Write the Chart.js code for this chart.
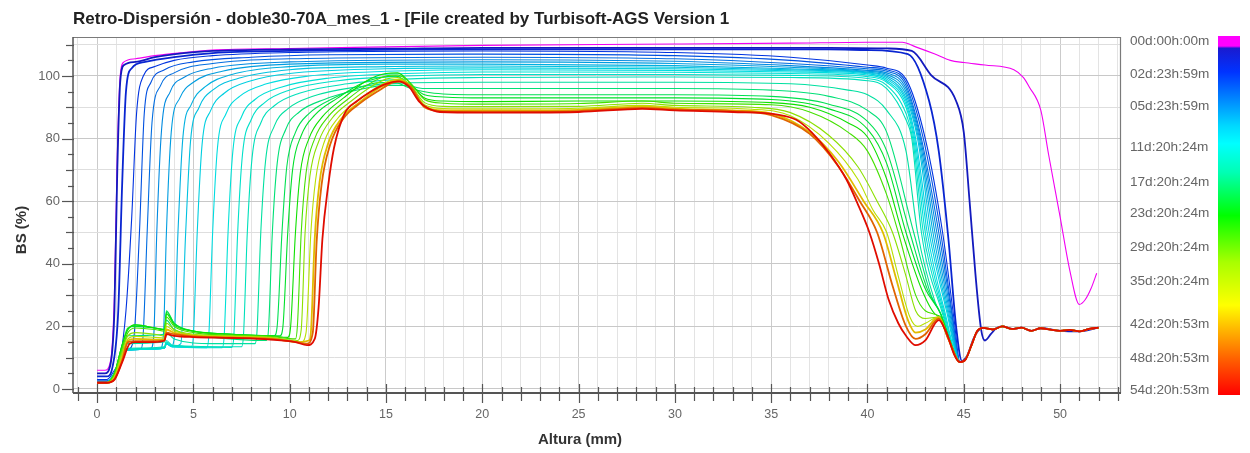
<!DOCTYPE html>
<html><head><meta charset="utf-8">
<script src="https://cdn.jsdelivr.net/npm/chart.js@4.4.1/dist/chart.umd.min.js"></script>
<style>html,body{margin:0;padding:0;background:#fff;}canvas{display:block;}</style>
</head><body>
<canvas id="c" width="1250" height="453"></canvas>
<script>
// ---------------- DATA ----------------
const chartTitle = "Retro-Dispersión - doble30-70A_mes_1 - [File created by Turbisoft-AGS Version 1";
const xAxisTitle = "Altura (mm)";
const yAxisTitle = "BS (%)";
const xTickLabels = [0, 5, 10, 15, 20, 25, 30, 35, 40, 45, 50];
const yTickLabels = [0, 20, 40, 60, 80, 100];
const colorbarLabels = ["00d:00h:00m","02d:23h:59m","05d:23h:59m","11d:20h:24m","17d:20h:24m","23d:20h:24m","29d:20h:24m","35d:20h:24m","42d:20h:53m","48d:20h:53m","54d:20h:53m"];
// scan times (days) of the drawn profiles
const scanTimes = [0,1,2,3,4,5,6,7,8,9,10,11,12,13,14,16,18,20,22,25,28,32,36,42,48,54.87];
// common top-of-tube tail (mm, BS %)
const tailBS = [[46,19.5],[46.5,19],[47,20],[47.5,19.2],[48,19.6],[48.5,18.6],[49,19.4],[49.5,19],[50,18.6],[50.5,18.9],[51,18.4],[51.5,19.2],[52,19.6]];
const dipBS = [[44.8,8.6],[45.1,9.5],[45.4,14],[45.7,18.5]];

const bs_t00 = [[0,6],[0.4,6],[0.7,9],[0.9,30],[1.05,75],[1.2,100],[1.4,104.5],[2,105.5],[3,106.5],[4.5,107.5],[6,108.3],[10,108.8],[15,109.3],[20,109.8],[30,110.2],[36,110.5],[40,110.8],[41.8,110.8],[42.5,109.3],[43.5,107],[44.3,105],[45,104.3],[46.1,103.5],[47.6,102],[48.1,99.5],[48.4,96.5],[49,89],[49.4,75],[50,55],[50.5,38],[51,27],[51.3,28.5],[51.6,32],[51.9,37]];
const bs_t01 = [[0,5],[0.4,5],[0.7,8],[0.9,25],[1.05,70],[1.2,98],[1.4,103.5],[2,104.5],[3,106],[4.5,107.3],[6,108],[10,108.5],[15,108.7],[20,109],[30,109],[38,109],[41,108.8],[42.3,108],[43.3,100.3],[44.6,92],[45,82],[45.3,60],[45.6,37],[45.9,19],[46.1,15.5],[46.4,17.5],[46.7,19.5],[47,20],[47.5,19.2],[48,19.6],[48.5,18.6],[49,19.4],[50,18.6],[51,18.4],[52,19.6]];
const bs_t02 = [[0,4],[0.5,4],[0.8,7],[1.1,25],[1.3,65],[1.5,95],[1.8,102.5],[2.5,104.5],[4,106],[6,107.3],[10,108],[20,108.5],[30,108.5],[38,108.5],[40,108.3],[42.1,107],[43.2,92],[43.7,76],[44.2,48],[44.6,20],[44.9,9],[45.2,11],[45.5,16],[45.8,19]];
const bs_t03 = [[0,3],[0.5,3],[0.9,6],[1.2,10],[1.5,25],[1.8,55],[2.05,88],[2.4,100],[3,103],[4,105],[6,106.5],[10,107.5],[20,108],[30,107.5],[36,106],[40,103.5],[41,102.5],[42,99],[43,80],[43.9,50],[44.5,22]];
const bs_t04 = [[0,2.5],[0.5,2.5],[0.9,5],[1.3,11],[1.6,12.5],[1.9,16],[2.2,50],[2.45,88],[2.8,98],[3.5,102],[5,104.5],[8,106],[12,106.8],[20,107],[30,106.5],[36,105],[40,102.8],[41,102],[42,98],[42.9,80],[43.8,50],[44.4,24]];
const bs_t05 = [[0,2.5],[0.5,2.5],[0.9,5],[1.3,11],[1.6,12.5],[2.3,13],[2.4,18],[2.6,50],[2.85,85],[3.3,97],[4,101],[6,104],[10,105.5],[20,106],[30,105.5],[36,104],[40,102.3],[41,101.5],[42,97],[42.8,80],[43.7,50],[44.35,25]];
const bs_t06 = [[0,2],[0.5,2],[0.9,5],[1.3,11],[1.6,12.5],[2.8,13],[2.95,18],[3.1,50],[3.35,83],[3.8,95],[4.5,99.5],[6,102.5],[10,104.5],[20,105.2],[30,104.7],[36,103.3],[40,101.8],[41,101],[42,96],[42.75,80],[43.6,50],[44.3,25]];
const bs_t07 = [[0,2],[0.5,2],[0.9,5],[1.3,11],[1.6,12.5],[3.3,13],[3.45,18],[3.6,50],[3.85,82],[4.3,93],[5,98],[6.5,101.5],[10,103.8],[20,104.5],[30,104],[36,102.8],[40,101.5],[41,100.5],[42,95],[42.7,80],[43.5,50],[44.25,25]];
const bs_t08 = [[0,2],[0.5,2],[0.9,5],[1.3,11],[1.6,12.5],[3.5,13],[3.6,14.5],[3.85,13.5],[4.0,16],[4.2,50],[4.45,80],[4.9,91],[5.6,96.5],[7,100.5],[10,103],[15,103.8],[20,103.8],[30,103.3],[36,102.3],[40,101.2],[41,100],[42,94],[42.65,80],[43.4,50],[44.2,25]];
const bs_t09 = [[0,2],[0.5,2],[0.9,5],[1.3,11],[1.6,12.5],[3.5,13],[3.6,14.5],[3.9,13.5],[4.35,14.5],[4.6,50],[4.85,79],[5.3,90],[6,95.5],[7.5,99.5],[10,102],[15,103],[20,103.2],[30,102.8],[36,102],[40,101],[41,99.5],[42,93],[42.6,80],[43.3,50],[44.15,25]];
const bs_t10 = [[0,2],[0.5,2],[0.9,5],[1.3,11],[1.6,12.5],[3.5,13],[3.6,14.5],[3.9,13.5],[4.9,13.5],[5.0,17],[5.2,50],[5.45,78],[5.9,89],[6.6,94.5],[8,98.5],[10,100.8],[15,102.3],[20,102.6],[30,102.3],[36,101.7],[40,100.7],[41,99],[42,92],[42.5,80],[43.2,50],[44.1,25]];
const bs_t11 = [[0,2],[0.5,2],[0.9,5],[1.3,11],[1.6,12.5],[3.5,13],[3.6,14.5],[3.9,13.5],[5.7,13.2],[5.8,17],[6.0,50],[6.25,77],[6.7,88],[7.4,93.5],[8.8,97.5],[11,100],[15,101.5],[20,102],[30,101.8],[36,101.3],[40,100.3],[41,98.5],[42,91],[42.45,80],[43.1,50],[44,25]];
const bs_t12 = [[0,2],[0.5,2],[0.9,5],[1.3,11],[1.6,12.5],[3.5,13],[3.6,14.5],[3.9,13.5],[6.5,13.2],[6.6,17],[6.8,50],[7.05,76],[7.5,87],[8.2,92.5],[9.6,96.5],[12,99.3],[16,100.8],[20,101.3],[30,101.2],[36,100.8],[40,99.8],[41,98],[42,90],[42.4,80],[43.0,50],[43.95,25]];
const bs_t13 = [[0,2],[0.5,2],[0.9,5],[1.3,11],[1.6,12.8],[3.5,13.3],[3.6,15],[3.9,13.8],[7.0,13.3],[7.1,17],[7.3,50],[7.55,75],[8.0,86],[8.7,91.5],[10,95.5],[12.5,98.5],[16,100],[20,100.5],[30,100.5],[36,100.2],[40,99.2],[41,97],[42,88],[42.35,80],[42.9,50],[43.9,25]];
const bs_t14 = [[0,2],[0.5,2],[0.9,5],[1.3,11.5],[1.6,13],[3.5,13.5],[3.6,15.5],[3.9,14],[7.5,13.5],[7.6,17],[7.8,50],[8.05,74],[8.5,85],[9.2,90.5],[10.5,94.5],[13,97.5],[16,99],[20,99.5],[30,99.7],[36,99.5],[40,98.5],[41,96],[42,86],[42.3,80],[42.8,50],[43.85,25]];
const bs_t16 = [[0,2],[0.5,2],[0.9,5],[1.3,12],[1.6,14.5],[3.5,15],[3.6,18],[4,16],[6,14.5],[8.2,14.5],[8.3,18],[8.5,50],[8.75,73],[9.2,84],[9.9,89.5],[11.2,93.5],[13.5,96.5],[16,97.8],[20,98],[30,98],[36,97.5],[39,95.5],[40,94],[41,89],[42,76],[42.6,50],[43.5,28],[43.8,24],[44.3,15]];
const bs_t18 = [[0,2],[0.5,2],[0.9,5],[1.3,13],[1.6,17],[3.5,17.5],[3.6,22],[4,19],[6,16.5],[8.8,15.5],[8.9,19],[9.1,50],[9.35,72],[9.8,83],[10.5,88.5],[11.8,92.5],[13.5,95.5],[15,97],[16,97],[17,96],[20,96],[30,96],[35,95.5],[38,93.5],[40,89],[41,82],[42.4,50],[43.3,30],[43.8,24],[44.3,15]];
const bs_t20 = [[0,2],[0.5,2],[0.9,5],[1.3,14],[1.6,19],[2,20.5],[3,19.5],[3.5,19],[3.6,25],[4,21],[5,18.5],[7,17.5],[9.2,17],[9.35,20],[9.6,50],[9.85,71],[10.3,82],[11,88],[12.3,93],[13.5,96],[14.5,97.8],[15.4,98],[16.3,96],[17.5,94.5],[20,94],[30,94],[35,93.5],[38,91],[40,85.5],[41,76],[42.2,50],[43.1,32],[43.8,24],[44.3,15]];
const bs_t22 = [[0,2],[0.5,2],[0.9,5],[1.3,14],[1.6,19.5],[2,20],[3,19.5],[3.5,19],[3.6,24.5],[4,21],[5,18.5],[7,17.5],[9.5,17],[9.65,20],[9.9,50],[10.15,70],[10.6,81],[11.3,87.5],[12.5,93],[13.7,97.5],[14.7,99.5],[15.5,100],[16.2,97.5],[17,94],[18,93.3],[20,93],[30,93],[35,92.5],[38,89.5],[40,83],[41,72],[42.0,50],[43,32],[43.8,24],[44.3,15]];
const bs_t25 = [[0,2],[0.5,2],[0.9,5],[1.3,14],[1.6,19],[2,20.5],[3,19.5],[3.5,19],[3.6,24],[4,20.5],[5,18.5],[7,17.5],[9,17],[9.9,16.5],[10.05,20],[10.3,50],[10.55,69],[11,80],[11.7,87],[12.8,93],[14,98.5],[15,100.8],[15.6,101],[16.3,97.5],[17,93],[18,92],[20,91.8],[25,92],[30,92],[35,91.5],[37,90],[39,85],[40,80.5],[41,67],[41.8,50],[42.8,32],[43.5,24],[43.8,23],[44.3,15]];
const bs_t28 = [[0,2],[0.5,2],[0.9,5],[1.3,13],[1.6,18],[2,19.5],[3,19],[3.5,18.5],[3.6,23],[4,20],[5,18],[7,17.2],[9,16.8],[10.3,16],[10.4,20],[10.6,50],[10.85,69],[11.3,80],[12,87],[13,92.5],[14,97],[15,100],[15.6,100.3],[16.3,97.5],[17,92.5],[18,91.3],[20,91],[25,91.2],[28.3,92],[30,91.3],[35,90.8],[37,88.5],[39,82],[40,76],[41,62],[41.6,50],[42.5,30],[43,25],[43.7,23],[44.2,16]];
const bs_t32 = [[0,2],[0.5,2],[0.9,4],[1.3,12],[1.6,17],[2,18],[3,17.5],[3.5,17],[3.6,21],[4,19],[5,17.5],[7,17],[9,16.5],[10.4,15.5],[10.6,19],[10.8,50],[11.05,68],[11.5,79],[12.2,86.5],[13.2,92],[14.2,96.5],[15,99],[15.6,99.5],[16.3,96.8],[17,91.5],[18,90.3],[20,90.2],[25,90.3],[28.3,91.3],[30,90.6],[34,90],[36,88.3],[38,81],[39.5,71],[40.5,60],[41.3,50],[42,36],[42.5,25],[43,22.5],[43.7,23],[44.2,16]];
const bs_t36 = [[0,2],[0.5,2],[0.9,4],[1.3,11],[1.6,16],[2,16.8],[3,16.5],[3.5,16.3],[3.6,20],[4,18.5],[5,17.3],[7,16.8],[9,16.3],[10.6,15],[10.85,18],[11.1,50],[11.35,67],[11.8,79],[12.5,86.5],[13.5,92],[14.5,96.3],[15.2,98.5],[15.7,99],[16.3,96.7],[17,90.8],[18,89.6],[20,89.5],[25,89.7],[28.3,90.6],[30,90],[34,89.4],[36,87.3],[38,78.5],[39.5,67],[40.3,57],[41,50],[41.6,36],[42.2,23],[42.6,20],[43,21],[43.7,23],[44.2,16]];
const bs_t42 = [[0,2],[0.5,2],[0.9,3.5],[1.3,10],[1.6,15.5],[2,16],[3,15.8],[3.5,15.8],[3.6,19],[4,18],[5,17],[7,16.6],[9,16.2],[10.5,15],[11,15.5],[11.1,18],[11.3,48],[11.55,66],[12,78.5],[12.7,86.5],[13.6,91.5],[14.6,96],[15.3,98.3],[15.7,98.6],[16.3,96.5],[17,90.3],[18,89],[20,89],[25,89.2],[28.3,90.2],[30,89.6],[33,89],[35,88],[37,82],[38.5,72.5],[39.8,60],[40.8,50],[41.5,35],[42.1,22],[42.5,18],[43,19],[43.7,23],[44.2,16]];
const bs_t48 = [[0,2],[0.5,2],[0.9,3],[1.3,9],[1.6,15],[2,15.3],[3,15.3],[3.5,15.5],[3.6,18],[4,17.5],[5,16.8],[7,16.4],[9,16],[10.5,14.8],[10.9,14.5],[11.2,18],[11.4,47],[11.65,65],[12.1,78],[12.8,86.5],[13.7,91.5],[14.7,95.6],[15.3,97.8],[15.7,98.3],[16.3,96.5],[17,90],[18,88.7],[20,88.6],[25,88.8],[28.3,89.8],[30,89.3],[33,88.8],[35,87.5],[37,81.5],[38.5,71],[39.6,60],[40.5,50],[41.3,33],[42,20],[42.5,16],[43,17.5],[43.7,22.5],[44.2,16]];
const bs_t55 = [[0,2],[0.5,2],[0.9,3],[1.3,8.5],[1.7,14.5],[2,15],[3,15],[3.5,15.5],[3.6,17.5],[4,17],[5,16.6],[7,16.3],[9,15.8],[10.3,15],[10.9,14],[11.3,16],[11.5,26],[11.7,48],[12,65],[12.3,77],[12.85,88],[13.5,92],[14.2,95],[15,97.5],[15.6,98.3],[16.2,96.5],[16.7,92],[17.1,90],[17.8,88.5],[20,88.3],[25,88.5],[28.3,89.5],[30,89],[33,88.5],[35.4,87.6],[36.3,86],[37.1,82],[38,75.5],[38.9,67],[39.5,59],[40.1,50],[40.6,40],[41.1,28.5],[41.6,21],[42,17],[42.5,14],[43,15.5],[43.7,22],[44.1,18],[44.5,11]];

// profile arrays in scan order; those that join the common dip/tail get it appended
const profiles = [bs_t00,bs_t01,bs_t02,bs_t03,bs_t04,bs_t05,bs_t06,bs_t07,bs_t08,bs_t09,bs_t10,bs_t11,bs_t12,bs_t13,bs_t14,bs_t16,bs_t18,bs_t20,bs_t22,bs_t25,bs_t28,bs_t32,bs_t36,bs_t42,bs_t48,bs_t55];

// ---------------- STYLE / HELPERS ----------------
const FONT = '"Liberation Sans", Arial, Helvetica, sans-serif';
const PLOT = {left: 73, right: 1120, top: 37, bottom: 393};
const CB = {x: 1218, w: 22, top: 36, bottom: 395, labelX: 1130};
const cbLabelFrac = [0.014,0.106,0.196,0.310,0.408,0.494,0.589,0.682,0.804,0.897,0.986];
const cbStops = [[0,'#ff00ff'],[0.028,'#ff00ff'],[0.034,'#1a1ad0'],[0.10,'#0033ff'],[0.17,'#0080ff'],[0.25,'#00d8ff'],[0.30,'#00ffff'],[0.38,'#00ffb4'],[0.50,'#00ff00'],[0.63,'#a8ff00'],[0.75,'#ffff00'],[0.82,'#ffb400'],[0.90,'#ff6000'],[1,'#ff0000']];

function parseDays(s){ const m = s.match(/(\d+)d:(\d+)h:(\d+)m/); return (+m[1]) + (+m[2])/24 + (+m[3])/1440; }
const cbLabelDays = colorbarLabels.map(parseDays);
function timeToFrac(t){
  for (let i=0;i<cbLabelDays.length-1;i++){
    const a=cbLabelDays[i], b=cbLabelDays[i+1];
    if (t<=b || i===cbLabelDays.length-2){ const u=Math.min(1,Math.max(0,(t-a)/(b-a))); return cbLabelFrac[i]+u*(cbLabelFrac[i+1]-cbLabelFrac[i]); }
  }
  return 1;
}
function hex(c){ return [parseInt(c.slice(1,3),16),parseInt(c.slice(3,5),16),parseInt(c.slice(5,7),16)]; }
function fracToColor(f, dark){
  let i=0; while (i<cbStops.length-2 && f>cbStops[i+1][0]) i++;
  const [fa,ca]=cbStops[i],[fb,cb]=cbStops[i+1];
  const u=Math.min(1,Math.max(0,(f-fa)/(fb-fa)));
  const A=hex(ca),B=hex(cb);
  const rgb=A.map((v,k)=>Math.round((v+(B[k]-v)*u)*dark));
  return `rgb(${rgb[0]},${rgb[1]},${rgb[2]})`;
}

const N = profiles.length;
const datasets = profiles.map((pts, i) => {
  let all = pts.slice();
  const last = all[all.length-1][0];
  if (i >= 2) {
    if (last < 44.8) all = all.concat(dipBS);
    const l2 = all[all.length-1][0];
    all = all.concat(tailBS.filter(p => p[0] > l2));
  }
  const f = timeToFrac(scanTimes[i]);
  const w = (i===1||i===2) ? 1.8 : (i >= N-3 ? 1.8 : 1.1);
  return {
    label: 't=' + scanTimes[i] + 'd',
    data: all.map(p => ({x: p[0], y: p[1]})),
    borderColor: fracToColor(f, i===0 ? 0.95 : 0.88),
    borderWidth: w,
    pointRadius: 0,
    showLine: true,
    fill: false,
    cubicInterpolationMode: 'monotone',
    order: N - i
  };
});

const decor = {
  id: 'decor',
  afterDraw(chart){
    const ctx = chart.ctx, xs = chart.scales.x, ys = chart.scales.y, ca = chart.chartArea;
    ctx.save();
    // frame
    ctx.strokeStyle = '#7a7a7a'; ctx.lineWidth = 1.2;
    ctx.beginPath(); ctx.moveTo(ca.left, ca.top+0.5); ctx.lineTo(ca.right+0.5, ca.top+0.5); ctx.lineTo(ca.right+0.5, ca.bottom); ctx.stroke();
    ctx.strokeStyle = '#555'; ctx.lineWidth = 1.5;
    ctx.beginPath(); ctx.moveTo(ca.left, ca.top); ctx.lineTo(ca.left, ca.bottom); ctx.stroke();
    ctx.lineWidth = 2;
    ctx.beginPath(); ctx.moveTo(ca.left, ca.bottom); ctx.lineTo(ca.right+1, ca.bottom); ctx.stroke();
    // x ticks crossing the axis
    ctx.lineWidth = 1.2; ctx.strokeStyle = '#555';
    for (let v = Math.ceil(xs.min); v <= Math.floor(xs.max); v++) {
      const px = Math.round(xs.getPixelForValue(v)) + 0.5;
      const major = v % 5 === 0;
      ctx.beginPath(); ctx.moveTo(px, ca.bottom - (major ? 9 : 6)); ctx.lineTo(px, ca.bottom + (major ? 10 : 8)); ctx.stroke();
    }
    // y ticks
    for (let v = 0; v <= 110; v += 5) {
      const py = Math.round(ys.getPixelForValue(v)) + 0.5;
      const len = v % 20 === 0 ? 11 : (v % 10 === 0 ? 7 : 5);
      ctx.beginPath(); ctx.moveTo(ca.left - len, py); ctx.lineTo(ca.left + 1, py); ctx.stroke();
    }
    // title
    ctx.fillStyle = '#222'; ctx.font = 'bold 17px ' + FONT; ctx.textBaseline = 'middle'; ctx.textAlign = 'left';
    ctx.fillText(chartTitle, 73, 19);
    // axis titles
    ctx.font = 'bold 15px ' + FONT; ctx.fillStyle = '#333'; ctx.textAlign = 'center';
    ctx.fillText(xAxisTitle, 580, 440);
    ctx.save(); ctx.translate(22, 230); ctx.rotate(-Math.PI/2); ctx.fillText(yAxisTitle, 0, 0); ctx.restore();
    // colour bar
    const g = ctx.createLinearGradient(0, CB.top, 0, CB.bottom);
    cbStops.forEach(s => g.addColorStop(s[0], s[1]));
    ctx.fillStyle = g; ctx.fillRect(CB.x, CB.top, CB.w, CB.bottom - CB.top);
    ctx.font = '13.6px ' + FONT; ctx.fillStyle = '#666'; ctx.textAlign = 'left';
    colorbarLabels.forEach((lab, i) => {
      const y = CB.top + cbLabelFrac[i] * (CB.bottom - CB.top);
      ctx.fillText(lab, CB.labelX, y);
    });
    ctx.restore();
  }
};

new Chart(document.getElementById('c'), {
  type: 'scatter',
  data: { datasets },
  options: {
    responsive: false,
    animation: false,
    devicePixelRatio: 1,
    layout: { padding: { left: 0, right: 1250 - PLOT.right, top: PLOT.top, bottom: 0 } },
    plugins: { legend: { display: false }, tooltip: { enabled: false }, title: { display: false } },
    elements: { line: { tension: 0 } },
    scales: {
      x: {
        type: 'linear', min: -1.25, max: 53.11,
        afterFit: s => { s.height = 453 - PLOT.bottom; },
        afterBuildTicks: s => { const t = []; for (let v = -1; v <= 53; v++) t.push({value: v}); s.ticks = t; },
        ticks: { autoSkip: false, maxRotation: 0, minRotation: 0, padding: 14, color: '#666', font: { family: FONT, size: 12.5 },
                 callback: v => xTickLabels.includes(v) ? String(v) : '' },
        grid: { drawTicks: false, color: c => (c.tick && c.tick.value % 5 === 0) ? '#cbcbcb' : '#e3e3e3', lineWidth: 1 },
        border: { display: false }
      },
      y: {
        type: 'linear', min: -1.28, max: 112.46,
        afterFit: s => { s.width = PLOT.left; },
        afterBuildTicks: s => { const t = []; for (let v = 0; v <= 110; v += 5) t.push({value: v}); s.ticks = t; },
        ticks: { autoSkip: false, padding: 13, color: '#666', font: { family: FONT, size: 13 },
                 callback: v => yTickLabels.includes(v) ? String(v) : '' },
        grid: { drawTicks: false, color: c => { const v = c.tick ? c.tick.value : 1; return v % 10 !== 0 ? 'rgba(0,0,0,0)' : (v % 20 === 0 ? '#c8c8c8' : '#dedede'); }, lineWidth: 1 },
        border: { display: false }
      }
    }
  },
  plugins: [decor]
});
</script>
</body></html>
